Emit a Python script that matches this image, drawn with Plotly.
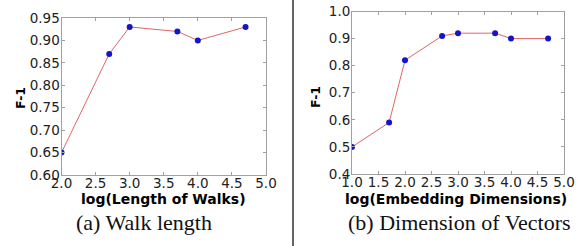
import plotly.graph_objects as go

walk_x = [2.0, 2.7, 3.0, 3.7, 4.0, 4.7]
walk_f1 = [0.65, 0.87, 0.93, 0.92, 0.90, 0.93]
dim_x = [1.0, 1.7, 2.0, 2.7, 3.0, 3.7, 4.0, 4.7]
dim_f1 = [0.50, 0.59, 0.82, 0.91, 0.92, 0.92, 0.90, 0.90]

left_xticks = [2.0, 2.5, 3.0, 3.5, 4.0, 4.5, 5.0]
left_yticks = [0.60, 0.65, 0.70, 0.75, 0.80, 0.85, 0.90, 0.95]
right_xticks = [1.0, 1.5, 2.0, 2.5, 3.0, 3.5, 4.0, 4.5, 5.0]
right_yticks = [0.4, 0.5, 0.6, 0.7, 0.8, 0.9, 1.0]

W, H = 581, 246
LINE = "#e06666"
MARK = "#1414c8"
FRAME = "#a0a0a0"
TICKFONT = dict(family="DejaVu Sans", size=13.5, color="#222")

fig = go.Figure()
fig.add_trace(go.Scatter(x=walk_x, y=walk_f1, mode="lines+markers",
                         line=dict(color=LINE, width=1),
                         marker=dict(color=MARK, size=6),
                         xaxis="x", yaxis="y", showlegend=False))
fig.add_trace(go.Scatter(x=dim_x, y=dim_f1, mode="lines+markers",
                         line=dict(color=LINE, width=1),
                         marker=dict(color=MARK, size=6),
                         xaxis="x2", yaxis="y2", showlegend=False))

def ax(domain, rng, ticks, fmt, anchor):
    return dict(domain=domain, range=rng, tickvals=ticks,
                ticktext=[fmt.format(t) for t in ticks],
                ticks="inside", ticklen=3, tickcolor=FRAME, tickwidth=1,
                showline=True, linecolor=FRAME, linewidth=1, mirror="allticks",
                showgrid=False, zeroline=False, tickfont=TICKFONT,
                anchor=anchor, automargin=False)

L0, L1 = 61.5 / W, 266 / W
R0, R1 = 352 / W, 564 / W
LB, LT = (H - 175) / H, (H - 18) / H
RB, RT = (H - 174) / H, (H - 11.5) / H

fig.update_layout(
    width=W, height=H,
    margin=dict(l=0, r=0, t=0, b=0),
    paper_bgcolor="white", plot_bgcolor="white",
    xaxis=ax([L0, L1], [2.0, 5.0], left_xticks, "{:.1f}", "y"),
    yaxis=ax([LB, LT], [0.60, 0.95], left_yticks, "{:.2f}", "x"),
    xaxis2=ax([R0, R1], [1.0, 5.0], right_xticks, "{:.1f}", "y2"),
    yaxis2=ax([RB, RT], [0.4, 1.0], right_yticks, "{:.1f}", "x2"),
)
fig.update_xaxes(ticklabelstandoff=-4)
fig.update_yaxes(ticklabelstandoff=-2)

bold = dict(family="DejaVu Sans", size=14, color="black")
boldy = dict(family="DejaVu Sans", size=12.5, color="black")
serif = dict(family="Liberation Serif", size=22, color="#111")
ann = [
    dict(x=163 / W, y=1 - 199 / H, text="<b>log(Length of Walks)</b>", font=bold),
    dict(x=456 / W, y=1 - 199 / H, text="<b>log(Embedding Dimensions)</b>", font=bold),
    dict(x=20 / W, y=1 - 98 / H, text="<b>F-1</b>", font=boldy, textangle=-90),
    dict(x=315 / W, y=1 - 97 / H, text="<b>F-1</b>", font=boldy, textangle=-90),
    dict(x=144 / W, y=1 - 222 / H, text="(a) Walk length", font=serif),
    dict(x=459 / W, y=1 - 222 / H, text="(b) Dimension of Vectors", font=serif),
]
for a in ann:
    fig.add_annotation(xref="paper", yref="paper", showarrow=False,
                       xanchor="center", yanchor="middle", **a)

fig.add_shape(type="line", xref="paper", yref="paper",
              x0=293 / W, x1=293 / W, y0=0, y1=1,
              line=dict(color="#333", width=1.5))

fig.write_html("out.html", config={"displayModeBar": False},
               post_script="document.body.style.margin='0';document.body.style.overflow='hidden';")
